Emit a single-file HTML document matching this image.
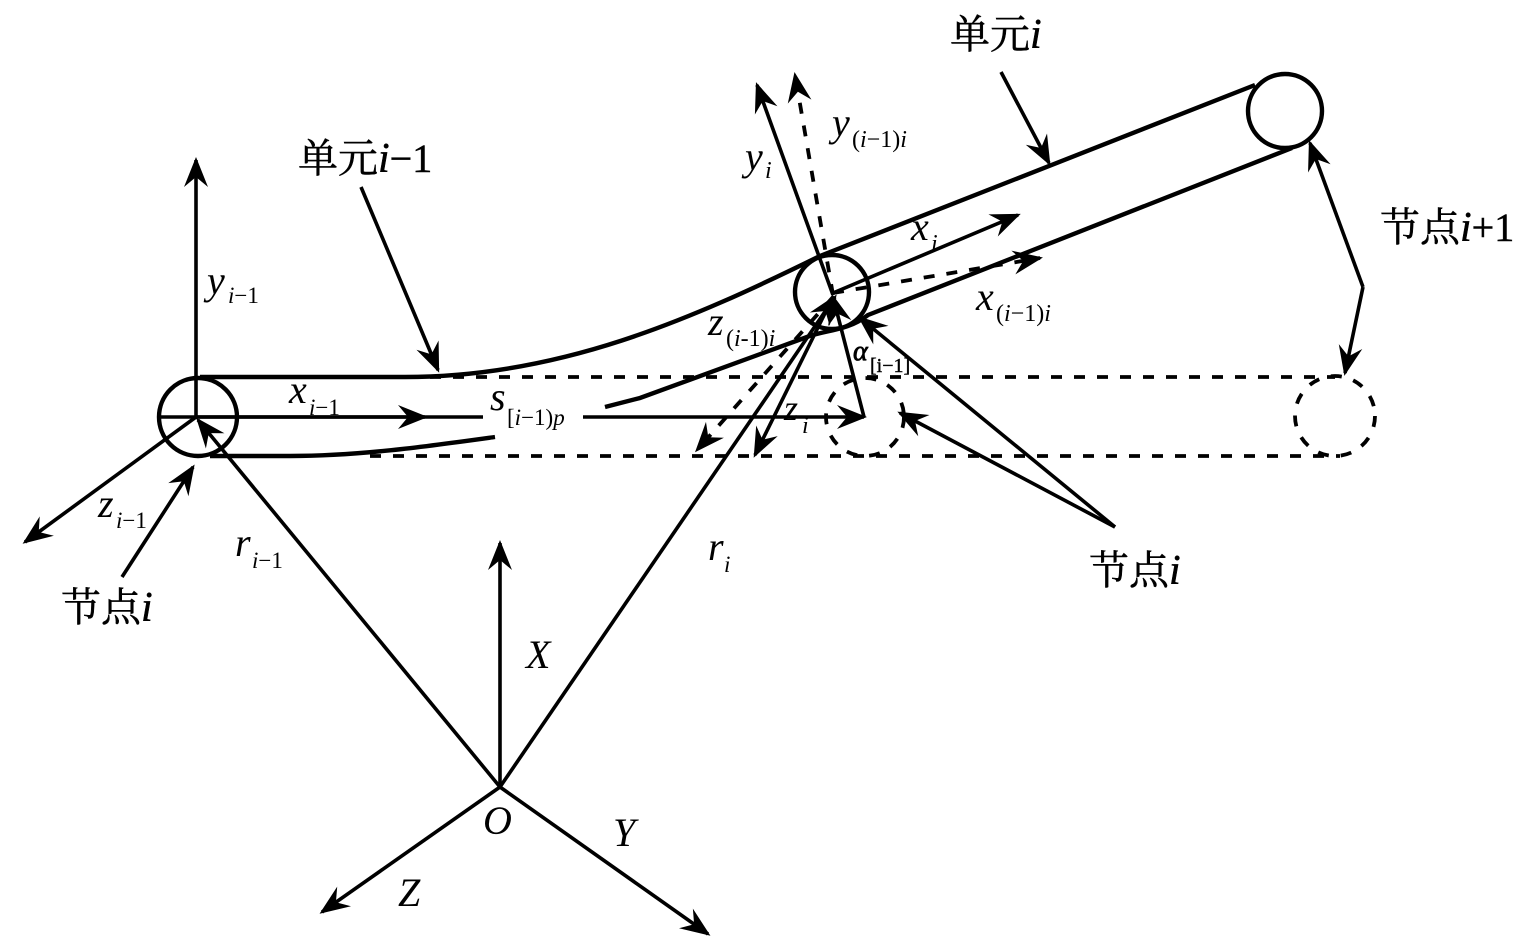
<!DOCTYPE html>
<html><head><meta charset="utf-8">
<style>
html,body{margin:0;padding:0;background:#fff;width:1536px;height:951px;overflow:hidden}
svg{display:block}
text{font-family:"Liberation Serif","Times New Roman","Noto Serif CJK SC",serif;fill:#000}
.v{font-style:italic;font-size:40px}
.s{font-style:italic;font-size:24px}
.c{font-size:40px;stroke:#000;stroke-width:.5}
.c tspan{font-size:42px}
.l{stroke:#000;stroke-width:3.6;fill:none}
.b{stroke:#000;stroke-width:4.4;fill:none}
.d{stroke:#000;stroke-width:3.8;fill:none;stroke-dasharray:11 12}
.a{marker-end:url(#h)}
</style></head><body>
<svg width="1536" height="951" viewBox="0 0 1536 951" xmlns="http://www.w3.org/2000/svg">
<defs>
<marker id="h" markerUnits="userSpaceOnUse" markerWidth="40" markerHeight="32" refX="28" refY="16" orient="auto">
<path d="M31,16 L1,4 L11,16 L1,28 Z" fill="#000"/>
</marker>
</defs>
<!-- beams -->
<path class="b" d="M200,377 H405 C560,377 690,320 820,256 L1255,85"/>
<path class="b" d="M210,456 H290 C360,456 430,446 495,437"/>
<path class="b" d="M605,407 L640,398 L807,337 C825,330 848,331 868,315 L1292,148"/>
<path class="d" d="M430,377 H1335"/>
<path class="d" d="M370,456 H1340"/>
<!-- circles -->
<circle class="b" cx="198" cy="417" r="39"/>
<circle class="b" cx="832" cy="292" r="37"/>
<circle class="b" cx="1285" cy="111" r="37"/>
<circle class="d" cx="865" cy="417" r="39"/>
<circle class="d" cx="1335" cy="416" r="40"/>
<!-- local axes -->
<line class="l a" x1="196" y1="417" x2="196" y2="160"/>
<line class="l" x1="160" y1="417" x2="483" y2="417"/>
<line class="l a" x1="196" y1="417" x2="425" y2="417"/>
<line class="l a" x1="196" y1="417" x2="25" y2="542"/>
<line class="l a" x1="500" y1="787" x2="198" y2="420"/>
<line class="l a" x1="122" y1="577" x2="193" y2="467"/>
<!-- global axes -->
<line class="l a" x1="500" y1="787" x2="500" y2="543"/>
<line class="l a" x1="500" y1="787" x2="322" y2="912"/>
<line class="l a" x1="500" y1="787" x2="708" y2="934"/>
<line class="l a" x1="500" y1="787" x2="835" y2="297"/>
<!-- pointers -->
<line class="l a" x1="361" y1="187" x2="438" y2="370"/>
<line class="l a" x1="1001" y1="72" x2="1049" y2="163"/>
<line class="l a" x1="1363" y1="287" x2="1310" y2="143"/>
<line class="l a" x1="1363" y1="287" x2="1345" y2="373"/>
<line class="l a" x1="1115" y1="527" x2="860" y2="318"/>
<line class="l a" x1="1115" y1="527" x2="900" y2="413"/>
<!-- node i frame -->
<line class="l a" x1="583" y1="417" x2="864" y2="417"/>
<line class="l a" x1="864" y1="417" x2="833" y2="297"/>
<line class="l a" x1="833" y1="297" x2="755" y2="455"/>
<line class="d a" x1="833" y1="297" x2="697" y2="450"/>
<line class="l a" x1="833" y1="293" x2="1018" y2="215"/>
<line class="d a" x1="833" y1="293" x2="1040" y2="258"/>
<line class="l a" x1="833" y1="295" x2="757" y2="85"/>
<line class="d a" x1="833" y1="295" x2="795" y2="75"/>
<!-- labels -->
<text class="c" x="950" y="48">单元<tspan font-style="italic">i</tspan></text>
<text class="c" x="298" y="172">单元<tspan font-style="italic">i</tspan>−1</text>
<text class="c" x="1380" y="241">节点<tspan font-style="italic">i</tspan>+1</text>
<text class="c" x="1089" y="584">节点<tspan font-style="italic">i</tspan></text>
<text class="c" x="61" y="621">节点<tspan font-style="italic">i</tspan></text>
<text class="v" x="207" y="294">y</text><text class="s" x="228" y="303" style="font-size:23px"><tspan>i</tspan><tspan font-style="normal">−1</tspan></text>
<text class="v" x="289" y="403">x</text><text class="s" x="309" y="415" style="font-size:23px">i<tspan font-style="normal">−1</tspan></text>
<text class="v" x="490" y="410">s</text><text class="s" x="507" y="425" style="font-size:23px"><tspan font-style="normal">[</tspan>i<tspan font-style="normal">−1)</tspan>p</text>
<text class="v" x="98" y="517">z</text><text class="s" x="116" y="528" style="font-size:23px">i<tspan font-style="normal">−1</tspan></text>
<text class="v" x="235" y="556">r</text><text class="s" x="252" y="568" style="font-size:23px">i<tspan font-style="normal">−1</tspan></text>
<text class="v" x="708" y="560">r</text><text class="s" x="724" y="572" style="font-size:23px">i</text>
<text class="v" x="526" y="668">X</text>
<text class="v" x="483" y="834">O</text>
<text class="v" x="613" y="846">Y</text>
<text class="v" x="398" y="906">Z</text>
<text class="v" x="745" y="170">y</text><text class="s" x="765" y="178">i</text>
<text class="v" x="832" y="136">y</text><text class="s" x="852" y="147"><tspan font-style="normal">(</tspan>i<tspan font-style="normal">−1)</tspan>i</text>
<text class="v" x="911" y="240">x</text><text class="s" x="931" y="251">i</text>
<text class="v" x="976" y="310">x</text><text class="s" x="996" y="321"><tspan font-style="normal">(</tspan>i<tspan font-style="normal">−1)</tspan>i</text>
<text class="v" x="708" y="335">z</text><text class="s" x="726" y="346"><tspan font-style="normal">(</tspan>i<tspan font-style="normal">-1)</tspan>i</text>
<text class="v" x="784" y="420" style="font-size:36px">z</text><text class="s" x="802" y="433">i</text>
<text class="v" x="853" y="360" style="font-size:28px;stroke:#000;stroke-width:.8">α</text><text x="870" y="372" style="font-size:20px;stroke:#000;stroke-width:.4">[i−1]</text>
</svg>
</body></html>
